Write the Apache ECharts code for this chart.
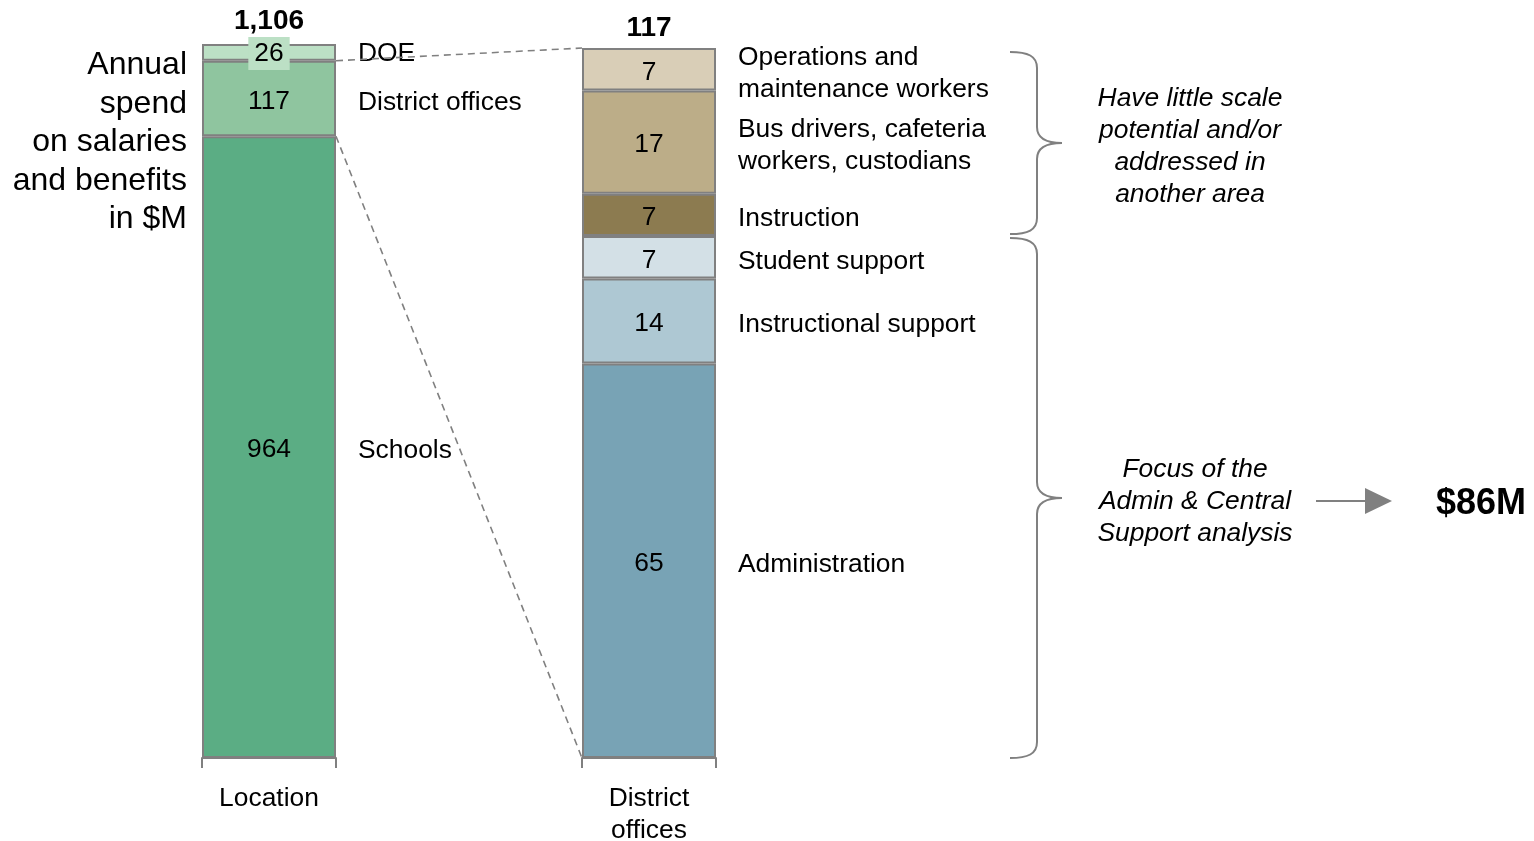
<!DOCTYPE html>
<html>
<head>
<meta charset="utf-8">
<script src="https://cdn.jsdelivr.net/npm/echarts@6/dist/echarts.min.js"></script>
<style>
  html, body { margin: 0; padding: 0; background: #fff; }
  #chart { width: 1534px; height: 841px; }
</style>
</head>
<body>
<div id="chart"></div>
<script>
// ---------- data ----------
const axisLabels = ['Location', 'District\noffices'];
const leftCategories = ['Schools', 'District offices', 'DOE'];           // bottom -> top
const leftValues = [964, 117, 26];
const leftTotalLabel = '1,106';
const rightCategories = ['Administration', 'Instructional support', 'Student support', 'Instruction',
  'Bus drivers, cafeteria\nworkers, custodians', 'Operations and\nmaintenance workers'];   // bottom -> top
const rightValues = [65, 14, 7, 7, 17, 7];
const rightTotalLabel = '117';
const focusCount = 3;   // bottom three segments of the right bar are the focus group
const titleText = 'Annual\nspend\non salaries\nand benefits\nin $M';
const noteTop = 'Have little scale\npotential and/or\naddressed in\nanother area';
const noteBottom = 'Focus of the\nAdmin & Central\nSupport analysis';

// ---------- styles ----------
const leftColors = ['#5BAD84', '#8FC59F', '#BCE0C5'];
const rightColors = ['#78A3B5', '#AEC8D3', '#D3E0E6', '#8C7B50', '#BCAD88', '#D9CEB7'];
const FONT = "'Liberation Sans', Arial, Helvetica, sans-serif";
const GRAY = '#808080';
const FS = 26.4;
const LG = { left: 202, top: 44, width: 134, height: 714 };
const RG = { left: 582, top: 48, width: 134, height: 710 };

const sum = a => a.reduce((s, v) => s + v, 0);

function buildSeries(cats, vals, colors, axisIdx, totalLabel, totalDist, stackId) {
  const out = [];
  cats.forEach((name, i) => {
    const isDOE = axisIdx === 0 && i === cats.length - 1;
    out.push({
      type: 'bar', name: name, xAxisIndex: axisIdx, yAxisIndex: axisIdx,
      stack: stackId, stackStrategy: 'all', data: [vals[i]],
      barWidth: '100%', barGap: '-100%', silent: true,
      itemStyle: { color: colors[i], borderColor: GRAY, borderWidth: 2 },
      label: Object.assign({
        show: true, position: 'inside', formatter: String(vals[i]),
        color: '#000', fontSize: FS, fontFamily: FONT, offset: [0, 3]
      }, isDOE ? { backgroundColor: colors[i], padding: [3, 6], lineHeight: 27, offset: [0, 1] } : {}),
      z: 2
    });
    out.push({
      type: 'bar', name: name + ' label', xAxisIndex: axisIdx, yAxisIndex: axisIdx,
      stack: stackId + 'names', stackStrategy: 'all', data: [vals[i]],
      barWidth: '100%', barGap: '-100%', silent: true,
      itemStyle: { color: 'rgba(0,0,0,0)', borderWidth: 0 },
      label: {
        show: true, position: 'right', distance: 22, formatter: name,
        color: '#000', fontSize: FS, lineHeight: 32, fontFamily: FONT, align: 'left',
        offset: [0, isDOE ? 1 : 4]
      },
      z: 1
    });
  });
  out.push({
    type: 'bar', name: 'total', xAxisIndex: axisIdx, yAxisIndex: axisIdx,
    stack: stackId, stackStrategy: 'all', data: [0],
    barWidth: '100%', barGap: '-100%', silent: true,
    itemStyle: { color: 'rgba(0,0,0,0)', borderWidth: 0 },
    label: {
      show: true, position: 'top', distance: totalDist, formatter: totalLabel,
      color: '#000', fontSize: 28, fontWeight: 'bold', fontFamily: FONT
    },
    z: 3
  });
  return out;
}

const xAxisBase = {
  type: 'category', boundaryGap: true,
  axisLine: { show: true, lineStyle: { color: GRAY, width: 2 } },
  axisTick: { show: true, length: 10, lineStyle: { color: GRAY, width: 2 } },
  axisLabel: { color: '#000', fontSize: FS, lineHeight: 32, fontFamily: FONT, margin: 25 },
  splitLine: { show: false }
};

const chart = echarts.init(document.getElementById('chart'), null, { renderer: 'canvas' });

chart.setOption({
  animation: false,
  backgroundColor: '#fff',
  grid: [
    Object.assign({ outerBoundsMode: 'none', containLabel: false }, LG),
    Object.assign({ outerBoundsMode: 'none', containLabel: false }, RG)
  ],
  xAxis: [
    Object.assign({ gridIndex: 0, data: [axisLabels[0]] }, xAxisBase),
    Object.assign({ gridIndex: 1, data: [axisLabels[1]] }, xAxisBase)
  ],
  yAxis: [
    { type: 'value', gridIndex: 0, min: 0, max: sum(leftValues), show: false, splitLine: { show: false } },
    { type: 'value', gridIndex: 1, min: 0, max: sum(rightValues), show: false, splitLine: { show: false } }
  ],
  series: [].concat(
    buildSeries(leftCategories, leftValues, leftColors, 0, leftTotalLabel, 9, 'L'),
    buildSeries(rightCategories, rightValues, rightColors, 1, rightTotalLabel, 6, 'R')
  )
});

// ---------- annotations computed through the axes ----------
const yL = v => chart.convertToPixel({ yAxisIndex: 0 }, v);
const yR = v => chart.convertToPixel({ yAxisIndex: 1 }, v);
const lEdge = LG.left + LG.width;
const rEdge = RG.left;

const leftSchools = leftValues[0];
const leftSchoolsPlusDistrict = leftValues[0] + leftValues[1];
const rightTotal = sum(rightValues);
const focusSum = sum(rightValues.slice(0, focusCount));

const yTopA = yR(rightTotal) + 4;
const yBotA = yR(focusSum) - 2;
const yTopB = yR(focusSum) + 2;
const yBotB = yR(0);

const lineStyle = { stroke: GRAY, lineWidth: 2, fill: null };
function brace(id, x0, yT, yB) {
  const ym = (yT + yB) / 2;
  const xm = x0 + 27, xt = x0 + 52;
  const parts = [
    { type: 'bezierCurve', shape: { x1: x0, y1: yT, cpx1: x0 + 18, cpy1: yT, cpx2: xm, cpy2: yT + 4, x2: xm, y2: yT + 16 } },
    { type: 'line', shape: { x1: xm, y1: yT + 16, x2: xm, y2: ym - 16 } },
    { type: 'bezierCurve', shape: { x1: xm, y1: ym - 16, cpx1: xm, cpy1: ym - 5, cpx2: xm + 9, cpy2: ym, x2: xt, y2: ym } },
    { type: 'bezierCurve', shape: { x1: xt, y1: ym, cpx1: xm + 9, cpy1: ym, cpx2: xm, cpy2: ym + 5, x2: xm, y2: ym + 16 } },
    { type: 'line', shape: { x1: xm, y1: ym + 16, x2: xm, y2: yB - 16 } },
    { type: 'bezierCurve', shape: { x1: xm, y1: yB - 16, cpx1: xm, cpy1: yB - 4, cpx2: x0 + 18, cpy2: yB, x2: x0, y2: yB } }
  ];
  return parts.map((p, k) => Object.assign({ id: id + k, silent: true, style: lineStyle }, p));
}

const midA = (yTopA + yBotA) / 2;
const midB = (yTopB + yBotB) / 2;

chart.setOption({
  graphic: [
    {
      type: 'text', id: 'title', x: 187, y: 46,
      style: { text: titleText, fontSize: 32, lineHeight: 38.5, fontFamily: FONT, fill: '#000', align: 'right', verticalAlign: 'top' }
    },
    {
      type: 'line', id: 'conn1', silent: true, z: 10,
      shape: { x1: lEdge, y1: yL(leftSchoolsPlusDistrict), x2: rEdge, y2: yR(rightTotal) },
      style: { stroke: GRAY, lineWidth: 1.6, lineDash: [7, 5] }
    },
    {
      type: 'line', id: 'conn2', silent: true, z: 10,
      shape: { x1: lEdge, y1: yL(leftSchools), x2: rEdge, y2: yR(0) },
      style: { stroke: GRAY, lineWidth: 1.6, lineDash: [7, 5] }
    }
  ].concat(
    brace('braceA', 1010, yTopA, yBotA),
    brace('braceB', 1010, yTopB, yBotB),
    [
      {
        type: 'text', id: 'noteA', x: 1190, y: midA + 4,
        style: { text: noteTop, fontSize: FS, lineHeight: 32, fontStyle: 'italic', fontFamily: FONT, fill: '#000', align: 'center', verticalAlign: 'middle' }
      },
      {
        type: 'text', id: 'noteB', x: 1195, y: midB + 4,
        style: { text: noteBottom, fontSize: FS, lineHeight: 32, fontStyle: 'italic', fontFamily: FONT, fill: '#000', align: 'center', verticalAlign: 'middle' }
      },
      {
        type: 'line', id: 'arrowLine', silent: true,
        shape: { x1: 1316, y1: midB + 3, x2: 1368, y2: midB + 3 },
        style: { stroke: GRAY, lineWidth: 2 }
      },
      {
        type: 'polygon', id: 'arrowHead', silent: true,
        shape: { points: [[1365, midB + 3 - 13], [1392, midB + 3], [1365, midB + 3 + 13]] },
        style: { fill: GRAY }
      },
      {
        type: 'text', id: 'focusTotal', x: 1436, y: midB + 6,
        style: { text: '$' + focusSum + 'M', fontSize: 36, fontWeight: 'bold', fontFamily: FONT, fill: '#000', align: 'left', verticalAlign: 'middle' }
      }
    ]
  )
});
</script>
</body>
</html>
